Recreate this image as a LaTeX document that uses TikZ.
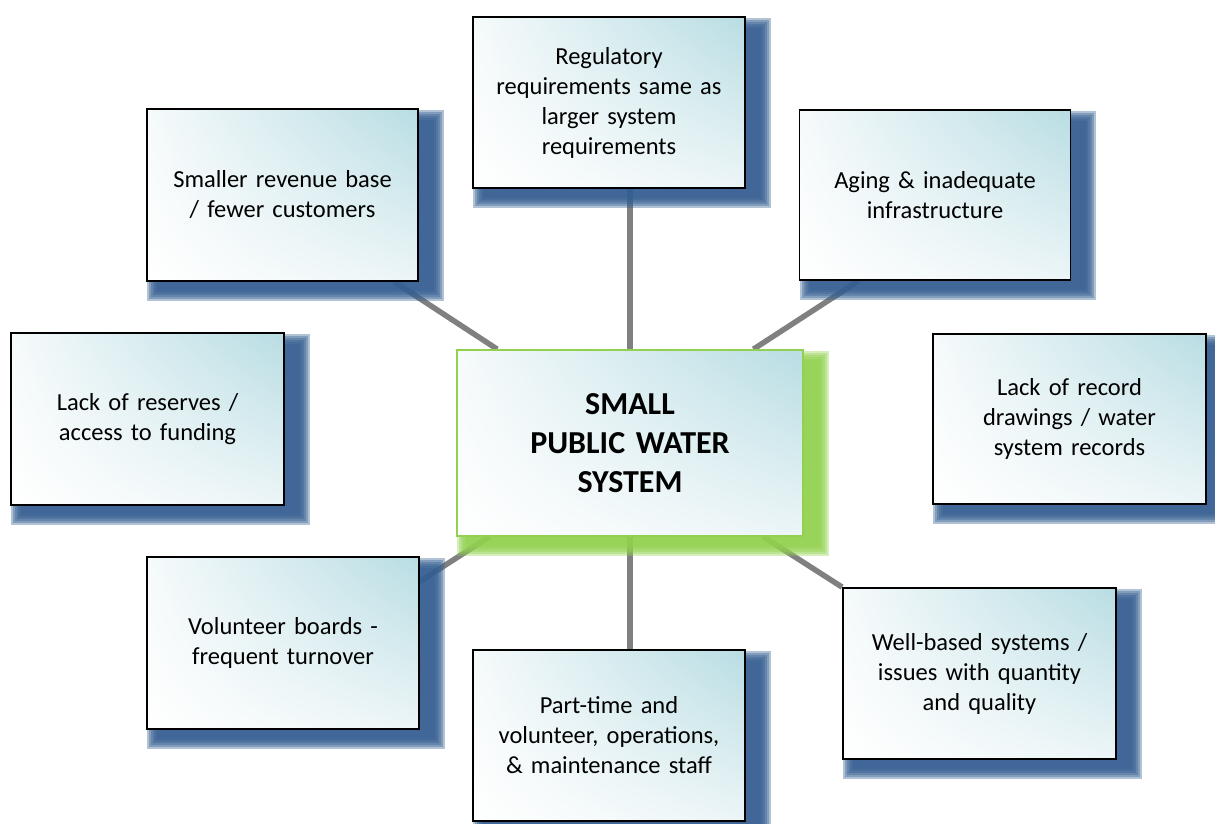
\documentclass[tikz,border=0pt]{standalone}
\usepackage{fontspec}
\setmainfont{Carlito}
\usetikzlibrary{calc,shadings}

\definecolor{shadowblue}{RGB}{52,94,145}
\definecolor{leafgreen}{RGB}{146,208,80}
\definecolor{linkgray}{RGB}{128,128,128}
\definecolor{tealtop}{RGB}{184,221,227}
\definecolor{tealmid}{RGB}{236,245,247}
\definecolor{paleleft}{RGB}{246,250,251}

% soft drop shadow behind a named node
\newcommand\dropshadow[2]{%
  \foreach \e in {5,3,1,-1,-3,-5}{%
    \fill[#2, opacity=0.38]
      ($(#1.north west)+(6-\e,7-\e)$) rectangle ($(#1.south east)+(20+\e,14+\e)$);}}

\tikzset{
  issue/.style={draw=black, line width=1.8pt, shade,
    upper left=paleleft, upper right=tealtop,
    lower left=white, lower right=tealmid,
    align=center, inner sep=0pt, text width=262pt,
    font=\fontsize{24.5}{30}\selectfont},
  hub/.style={issue, draw=leafgreen, line width=1.6pt, text width=330pt,
    font=\bfseries\fontsize{32}{39}\selectfont},
  link/.style={draw=linkgray, line width=5.5pt}
}

\begin{document}
\begin{tikzpicture}[x=1pt,y=-1pt]
\useasboundingbox (0,0) rectangle (1215,824);

% node placement (boxes drawn later, after the links and shadows)
\path
  (630,443)    node[hub,   minimum width=346pt, minimum height=186pt] (c)   {}
  (282.5,195)  node[issue, minimum width=271pt, minimum height=172pt] (tl)  {}
  (609,102.5)  node[issue, minimum width=272pt, minimum height=171pt] (top) {}
  (935,195)    node[issue, minimum width=271pt, minimum height=170pt] (tr)  {}
  (147.5,419)  node[issue, minimum width=273pt, minimum height=172pt] (lr)  {}
  (1069.5,419) node[issue, minimum width=273pt, minimum height=170pt] (rd)  {}
  (283,643)    node[issue, minimum width=272pt, minimum height=172pt] (vb)  {}
  (609,735.5)  node[issue, minimum width=272pt, minimum height=171pt] (pt)  {}
  (979.5,673.5) node[issue, minimum width=273pt, minimum height=171pt] (wb) {};

% links from the hub to each issue
\draw[link] (c.north) -- (c.north |- top.south);
\draw[link] (c.south) -- (c.south |- pt.north);
\draw[link] ($(c.north west)!0.47!(c.south west)$) -- ($(c.north west)!0.47!(c.south west)$ -| lr.east);
\draw[link] ($(c.north east)!0.47!(c.south east)$) -- ($(c.north east)!0.47!(c.south east)$ -| rd.west);
\draw[link] ($(c.north west)!0.118!(c.north east)$) -- ($(tl.south west)!0.91!(tl.south east)$);
\draw[link] ($(c.north west)!0.855!(c.north east)$) -- ($(tr.south west)!0.22!(tr.south east)$);
\draw[link] ($(c.south west)!0.095!(c.south east)$) -- ($(vb.north east)!0.146!(vb.south east)$);
\draw[link] ($(c.south west)!0.884!(c.south east)$) -- (wb.north west);

% shadows
\dropshadow{c}{leafgreen}
\foreach \n in {tl,top,tr,lr,rd,vb,pt,wb}{\dropshadow{\n}{shadowblue}}

% boxes with their texts
\node[hub,   minimum width=346pt, minimum height=186pt] at (c)   {SMALL\\PUBLIC WATER\\SYSTEM};
\node[issue, minimum width=271pt, minimum height=172pt] at (tl)  {Smaller revenue base\\/ fewer customers};
\node[issue, minimum width=272pt, minimum height=171pt] at (top) {Regulatory\\requirements same as\\larger system\\requirements};
\node[issue, minimum width=271pt, minimum height=170pt] at (tr)  {Aging \& inadequate\\infrastructure};
\node[issue, minimum width=273pt, minimum height=172pt] at (lr)  {Lack of reserves /\\access to funding};
\node[issue, minimum width=273pt, minimum height=170pt] at (rd)  {Lack of record\\drawings / water\\system records};
\node[issue, minimum width=272pt, minimum height=172pt] at (vb)  {Volunteer boards -\\frequent turnover};
\node[issue, minimum width=272pt, minimum height=171pt] at (pt)  {Part-time and\\volunteer, operations,\\\& maintenance staff};
\node[issue, minimum width=273pt, minimum height=171pt] at (wb)  {Well-based systems /\\issues with quantity\\and quality};
\end{tikzpicture}
\end{document}
